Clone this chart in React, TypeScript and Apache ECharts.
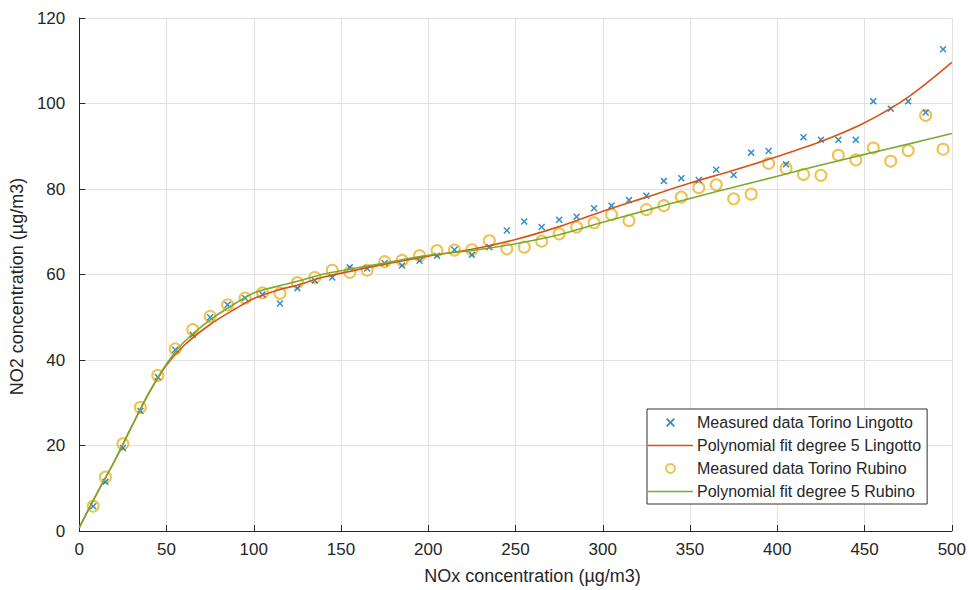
import React, { useEffect, useRef } from "react";
import * as echarts from "echarts";

const noxValues = [8, 15, 25, 35, 45, 55, 65, 75, 85, 95, 105, 115, 125, 135, 145, 155, 165, 175, 185, 195, 205, 215, 225, 235, 245, 255, 265, 275, 285, 295, 305, 315, 325, 335, 345, 355, 365, 375, 385, 395, 405, 415, 425, 435, 445, 455, 465, 475, 485, 495];

const lingottoMeasured = [5.8, 11.5, 19.4, 28.1, 36, 42.4, 45.9, 50, 52.9, 54.5, 55.3, 53.2, 56.8, 58.6, 59.3, 61.7, 61.4, 62.7, 62.1, 63.2, 64.4, 65.8, 64.6, 66.4, 70.3, 72.4, 71.1, 72.8, 73.5, 75.5, 76.1, 77.4, 78.4, 81.9, 82.5, 82.1, 84.5, 83.3, 88.5, 88.9, 85.8, 92.1, 91.5, 91.5, 91.5, 100.5, 98.8, 100.5, 97.9, 112.7];

const rubinoMeasured = [5.8, 12.6, 20.4, 28.9, 36.4, 42.6, 47.1, 50.2, 52.9, 54.5, 55.7, 55.6, 58.1, 59.3, 61, 60.5, 61, 63, 63.3, 64.4, 65.6, 65.7, 65.8, 67.9, 66, 66.4, 67.8, 69.5, 71.1, 72.1, 74, 72.6, 75.2, 76.1, 78.1, 80.3, 81, 77.7, 78.8, 86, 84.8, 83.4, 83.2, 87.9, 86.8, 89.6, 86.5, 89, 97.2, 89.3];

const fitX = [0, 10, 20, 30, 40, 50, 60, 75, 90, 100, 115, 125, 140, 175, 200, 225, 250, 275, 300, 325, 350, 375, 400, 425, 450, 475, 500];
const lingottoFit = [0.8, 8.7, 16.2, 24.4, 32.3, 38.8, 43.4, 48.3, 52.1, 54.4, 56.5, 57.5, 59.4, 62.4, 64.3, 65.9, 68.2, 71.2, 74.8, 78.1, 81.4, 84.4, 87.6, 91.1, 95.5, 101.5, 109.6];
const rubinoFit = [0.8, 8.7, 16.2, 24.4, 32.4, 39.1, 44.2, 49.4, 53.4, 55.7, 57.4, 58.4, 60.1, 62.7, 64.5, 65.6, 67.2, 69.3, 72.2, 75, 77.8, 80.4, 83, 85.6, 88.1, 90.5, 93];

const seriesNames = [
  "Measured data Torino Lingotto",
  "Polynomial fit degree 5 Lingotto",
  "Measured data Torino Rubino",
  "Polynomial fit degree 5 Rubino",
];

const xAxisTitle = "NOx concentration (µg/m3)";
const yAxisTitle = "NO2 concentration (µg/m3)";

const FONT = "'Liberation Sans', Arial, Helvetica, sans-serif";
const TEXT = "#262626";
const CROSS = "path://M1.5,0 L5,3.5 L8.5,0 L10,1.5 L6.5,5 L10,8.5 L8.5,10 L5,6.5 L1.5,10 L0,8.5 L3.5,5 L0,1.5 Z";
const LINE_ICON = "path://M0,0 L60,0 L60,2 L0,2 Z";

export default function App() {
  const ref = useRef<HTMLDivElement>(null);
  useEffect(() => {
    if (!ref.current) return;
    const chart = echarts.init(ref.current, undefined, { renderer: "svg" });
    const zip = (xs: number[], ys: number[]) => xs.map((x, i) => [x, ys[i]]);
    chart.setOption({
      animation: false,
      backgroundColor: "#ffffff",
      textStyle: { fontFamily: FONT },
      grid: { left: 73, top: 18, width: 880, height: 516, containLabel: false },
      xAxis: {
        type: "value",
        min: 0,
        max: 500,
        interval: 50,
        name: xAxisTitle,
        nameLocation: "middle",
        nameGap: 36,
        nameTextStyle: { fontSize: 18, color: TEXT, fontFamily: FONT, padding: [0, 0, 0, 34] },
        axisLine: { show: true, lineStyle: { color: TEXT, width: 1 } },
        axisTick: { show: true, inside: true, length: 6, lineStyle: { color: TEXT } },
        axisLabel: { fontSize: 17, color: TEXT, margin: 10, fontFamily: FONT },
        splitLine: { show: true, lineStyle: { color: "#e2e2e2", width: 1 } },
      },
      yAxis: {
        type: "value",
        min: 0,
        max: 120,
        interval: 20,
        name: yAxisTitle,
        nameLocation: "middle",
        nameGap: 46,
        nameTextStyle: { fontSize: 18, color: TEXT, fontFamily: FONT, padding: [0, 24, 0, 0] },
        axisLine: { show: true, lineStyle: { color: TEXT, width: 1 } },
        axisTick: { show: true, inside: true, length: 6, lineStyle: { color: TEXT } },
        axisLabel: { fontSize: 17, color: TEXT, margin: 14, fontFamily: FONT },
        splitLine: { show: true, lineStyle: { color: "#e2e2e2", width: 1 } },
      },
      legend: {
        orient: "vertical",
        left: 647,
        top: 409,
        padding: [5, 6, 4, 1],
        itemGap: 6,
        itemWidth: 45,
        itemHeight: 9,
        backgroundColor: "#ffffff",
        borderColor: "#303030",
        borderWidth: 1,
        borderRadius: 0,
        textStyle: { fontSize: 16, color: TEXT, fontFamily: FONT, lineHeight: 17, padding: [0, 0, 0, -1] },
        data: [
          { name: seriesNames[0] },
          { name: seriesNames[1], icon: LINE_ICON },
          { name: seriesNames[2] },
          { name: seriesNames[3], icon: LINE_ICON },
        ],
      },
      series: [
        {
          name: seriesNames[0],
          type: "scatter",
          symbol: CROSS,
          symbolSize: 7,
          itemStyle: { color: "#0072BD" },
          data: zip(noxValues, lingottoMeasured),
          z: 3,
        },
        {
          name: seriesNames[1],
          type: "line",
          symbol: "none",
          smooth: 0.3,
          lineStyle: { color: "#D95319", width: 1.6 },
          itemStyle: { color: "#D95319" },
          data: zip(fitX, lingottoFit),
          z: 4,
        },
        {
          name: seriesNames[2],
          type: "scatter",
          symbol: "emptyCircle",
          symbolSize: 11,
          itemStyle: { color: "#EDB120", borderColor: "#EDB120", borderWidth: 1.6 },
          data: zip(noxValues, rubinoMeasured),
          z: 2,
        },
        {
          name: seriesNames[3],
          type: "line",
          symbol: "none",
          smooth: 0.3,
          lineStyle: { color: "#77AC30", width: 1.6 },
          itemStyle: { color: "#77AC30" },
          data: zip(fitX, rubinoFit),
          z: 5,
        },
      ],
    });
    return () => chart.dispose();
  }, []);
  return (
    <div
      ref={ref}
      style={{ position: "fixed", left: 0, top: 0, width: 969, height: 590, background: "#fff" }}
    />
  );
}
